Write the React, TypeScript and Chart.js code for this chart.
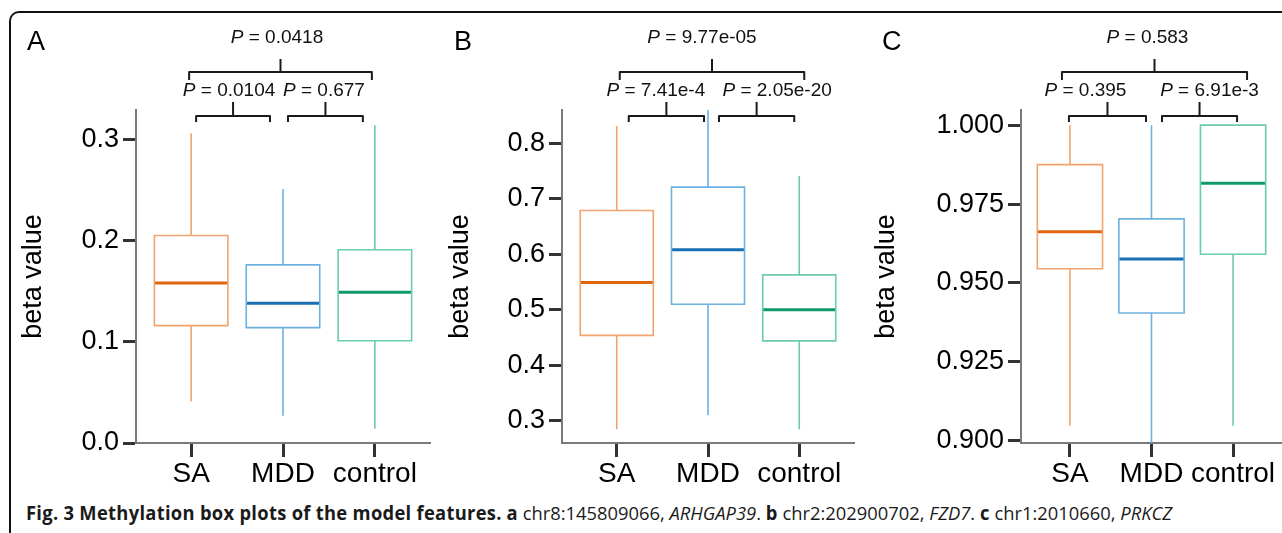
import React, { useEffect, useRef } from 'react';
import { Chart, registerables } from 'chart.js';

Chart.register(...registerables);

// ---------- data ----------
const GROUPS = ['SA', 'MDD', 'control'];

// Panel A: chr8:145809066, ARHGAP39
const A_MIN = [0.041, 0.027, 0.014];
const A_Q1 = [0.116, 0.114, 0.101];
const A_MED = [0.158, 0.138, 0.149];
const A_Q3 = [0.205, 0.176, 0.191];
const A_MAX = [0.306, 0.251, 0.314];
const A_Y_TICKS = ['0.0', '0.1', '0.2', '0.3'];
// SA vs MDD, MDD vs control, SA vs control
const A_P = ['0.0104', '0.677', '0.0418'];

// Panel B: chr2:202900702, FZD7
const B_MIN = [0.285, 0.31, 0.285];
const B_Q1 = [0.454, 0.51, 0.444];
const B_MED = [0.549, 0.608, 0.5];
const B_Q3 = [0.679, 0.721, 0.563];
const B_MAX = [0.831, 0.86, 0.741];
const B_Y_TICKS = ['0.3', '0.4', '0.5', '0.6', '0.7', '0.8'];
const B_P = ['7.41e-4', '2.05e-20', '9.77e-05'];

// Panel C: chr1:2010660, PRKCZ
const C_MIN = [0.9048, 0.899, 0.9048];
const C_Q1 = [0.9545, 0.9405, 0.9591];
const C_MED = [0.9662, 0.9576, 0.9816];
const C_Q3 = [0.9875, 0.9703, 1.0];
const C_MAX = [1.0, 1.0, 1.0];
const C_Y_TICKS = ['0.900', '0.925', '0.950', '0.975', '1.000'];
const C_P = ['0.395', '6.91e-3', '0.583'];

// ---------- styles ----------
const FAMILY = "'Liberation Sans', Arial, Helvetica, sans-serif";
const BOX_COLORS = ['#F2A46E', '#6DB1DF', '#6ACDAA'];
const MEDIAN_COLORS = ['#E0650F', '#1B6FB3', '#0C9A68'];
const BOX_HALF = 0.4;
const CANVAS_H = 500;
const CHART_TOP = 110;
const CHART_BOTTOM = 443;

type Bracket = { from: number; to: number; level: number; dx: [number, number]; labelDx: number };

const PANELS = [
  {
    letter: 'A', left: 0, width: 432, yWidth: 136, padRight: 2, titlePad: 17, letterX: 27,
    yMin: 0, yMax: 0.329, ticks: A_Y_TICKS,
    stats: { min: A_MIN, q1: A_Q1, med: A_MED, q3: A_Q3, max: A_MAX }, p: A_P,
    brackets: [
      { from: 0, to: 1, level: 0, dx: [5, -13], labelDx: -4 },
      { from: 1, to: 2, level: 0, dx: [5, -12], labelDx: -1.5 },
      { from: 0, to: 2, level: 1, dx: [-2, -3], labelDx: -3.5 },
    ] as Bracket[],
  },
  {
    letter: 'B', left: 432, width: 428, yWidth: 130, padRight: 6, titlePad: 12, letterX: 22,
    yMin: 0.26, yMax: 0.86, ticks: B_Y_TICKS,
    stats: { min: B_MIN, q1: B_Q1, med: B_MED, q3: B_Q3, max: B_MAX }, p: B_P,
    brackets: [
      { from: 0, to: 1, level: 0, dx: [12, -4], labelDx: -10.5 },
      { from: 1, to: 2, level: 0, dx: [11, -5], labelDx: 20.5 },
      { from: 0, to: 2, level: 1, dx: [3, 5], labelDx: -10 },
    ] as Bracket[],
  },
  {
    letter: 'C', left: 860, width: 422, yWidth: 161, padRight: 0, titlePad: 10, letterX: 22,
    yMin: 0.8993, yMax: 1.0048, ticks: C_Y_TICKS,
    stats: { min: C_MIN, q1: C_Q1, med: C_MED, q3: C_Q3, max: C_MAX }, p: C_P,
    brackets: [
      { from: 0, to: 1, level: 0, dx: [-1, -5.5], labelDx: -22 },
      { from: 1, to: 2, level: 0, dx: [10.5, 4], labelDx: 10 },
      { from: 0, to: 2, level: 1, dx: [-8, 14], labelDx: -7 },
    ] as Bracket[],
  },
];

type Panel = typeof PANELS[number];

function buildDatasets(s: Panel['stats']) {
  const ds: any[] = [];
  GROUPS.forEach((_, i) => {
    const c = i + 1;
    ds.push({
      label: GROUPS[i] + ' whiskers',
      data: [
        { x: c, y: s.min[i] }, { x: c, y: s.q1[i] }, { x: c, y: null },
        { x: c, y: s.q3[i] }, { x: c, y: s.max[i] },
      ],
      borderColor: BOX_COLORS[i], borderWidth: 1.6, pointRadius: 0, spanGaps: false, fill: false,
    });
    ds.push({
      label: GROUPS[i] + ' box',
      data: [
        { x: c - BOX_HALF, y: s.q1[i] }, { x: c + BOX_HALF, y: s.q1[i] },
        { x: c + BOX_HALF, y: s.q3[i] }, { x: c - BOX_HALF, y: s.q3[i] },
        { x: c - BOX_HALF, y: s.q1[i] }, { x: c + BOX_HALF, y: s.q1[i] },
      ],
      borderColor: BOX_COLORS[i], borderWidth: 1.6, pointRadius: 0, fill: false,
    });
    ds.push({
      label: GROUPS[i] + ' median',
      data: [{ x: c - BOX_HALF, y: s.med[i] }, { x: c + BOX_HALF, y: s.med[i] }],
      borderColor: MEDIAN_COLORS[i], borderWidth: 3, pointRadius: 0, fill: false,
    });
  });
  return ds;
}

function makeAnnotPlugin(cfg: Panel) {
  return {
    id: 'annot' + cfg.letter,
    afterDraw(chart: any) {
      const { ctx, chartArea, scales } = chart;
      const xs = scales.x;
      const top = chartArea.top;
      ctx.save();
      ctx.strokeStyle = '#1a1a1a';
      ctx.lineWidth = 2;
      ctx.lineJoin = 'round';
      ctx.lineCap = 'butt';
      cfg.brackets.forEach((b, k) => {
        const x1 = xs.getPixelForValue(b.from + 1) + b.dx[0];
        const x2 = xs.getPixelForValue(b.to + 1) + b.dx[1];
        const L = b.level === 0
          ? { bar: top + 6, end: top + 12, tip: top - 8, base: top - 14 }
          : { bar: top - 38, end: top - 30, tip: top - 51, base: top - 67 };
        ctx.beginPath();
        ctx.moveTo(x1, L.end);
        ctx.lineTo(x1, L.bar);
        ctx.lineTo(x2, L.bar);
        ctx.lineTo(x2, L.end);
        ctx.stroke();
        const xm = (x1 + x2) / 2;
        ctx.beginPath();
        ctx.moveTo(xm, L.bar);
        ctx.lineTo(xm, L.tip);
        ctx.stroke();
        // label
        const rest = ' = ' + cfg.p[k];
        ctx.font = `italic 19px ${FAMILY}`;
        const wP = ctx.measureText('P').width;
        ctx.font = `19px ${FAMILY}`;
        const wR = ctx.measureText(rest).width;
        const start = xm + b.labelDx - (wP + wR) / 2;
        ctx.fillStyle = '#111';
        ctx.textBaseline = 'alphabetic';
        ctx.textAlign = 'left';
        ctx.font = `italic 19px ${FAMILY}`;
        ctx.fillText('P', start, L.base);
        ctx.font = `19px ${FAMILY}`;
        ctx.fillText(rest, start + wP, L.base);
      });
      ctx.font = `27px ${FAMILY}`;
      ctx.fillStyle = '#000';
      ctx.textAlign = 'left';
      ctx.textBaseline = 'alphabetic';
      ctx.fillText(cfg.letter, cfg.letterX, 49.5);
      ctx.restore();
    },
  };
}

function BoxPanel({ cfg }: { cfg: Panel }) {
  const ref = useRef<HTMLCanvasElement | null>(null);
  useEffect(() => {
    if (!ref.current) return;
    const chart = new Chart(ref.current, {
      type: 'line',
      data: { datasets: buildDatasets(cfg.stats) },
      options: {
        responsive: false,
        animation: false,
        events: [],
        layout: { padding: { top: CHART_TOP, left: 0, right: cfg.padRight, bottom: 0 } },
        plugins: { legend: { display: false }, tooltip: { enabled: false } },
        scales: {
          x: {
            type: 'linear',
            min: 0.4,
            max: 3.6,
            afterBuildTicks: (s: any) => { s.ticks = GROUPS.map((_, i) => ({ value: i + 1 })); },
            afterFit: (s: any) => { s.height = CANVAS_H - CHART_BOTTOM; },
            ticks: {
              callback: (v: any) => GROUPS[Math.round(Number(v)) - 1] ?? '',
              font: { size: 28, family: FAMILY },
              color: '#000',
              padding: 0,
              maxRotation: 0,
              minRotation: 0,
              autoSkip: false,
            },
            grid: { drawOnChartArea: false, drawTicks: true, tickLength: 14, tickWidth: 3, tickColor: '#333' },
            border: { display: true, color: '#7a7a7a', width: 2 },
          },
          y: {
            type: 'linear',
            min: cfg.yMin,
            max: cfg.yMax,
            afterBuildTicks: (s: any) => { s.ticks = cfg.ticks.map((t) => ({ value: parseFloat(t) })); },
            afterFit: (s: any) => { s.width = cfg.yWidth; },
            ticks: {
              callback: (_v: any, idx: number) => cfg.ticks[idx],
              font: { size: 27, family: FAMILY },
              color: '#000',
              padding: 4,
              autoSkip: false,
            },
            grid: { drawOnChartArea: false, drawTicks: true, tickLength: 13, tickWidth: 3, tickColor: '#333' },
            border: { display: true, color: '#7a7a7a', width: 2 },
            title: {
              display: true,
              text: 'beta value',
              font: { size: 27, family: FAMILY },
              color: '#000',
              padding: { top: cfg.titlePad, bottom: 0 },
            },
          },
        },
      },
      plugins: [makeAnnotPlugin(cfg)],
    } as any);
    return () => chart.destroy();
  }, [cfg]);
  return (
    <div style={{ position: 'absolute', left: cfg.left, top: 0, width: cfg.width, height: CANVAS_H }}>
      <canvas ref={ref} width={cfg.width} height={CANVAS_H} style={{ display: 'block' }} />
    </div>
  );
}

export default function App() {
  const capRef = useRef<HTMLDivElement | null>(null);
  useEffect(() => {
    const fit = () => {
      const el = capRef.current;
      if (!el) return;
      el.style.transform = 'none';
      const w = el.getBoundingClientRect().width;
      if (w > 0) el.style.transform = `scaleX(${1146 / w})`;
    };
    fit();
    if ((document as any).fonts?.ready) (document as any).fonts.ready.then(fit);
  }, []);
  const bold = { fontWeight: 700, letterSpacing: '0.3px' } as const;
  return (
    <div style={{ position: 'absolute', left: 0, top: 0, width: 1282, height: 533, overflow: 'hidden', background: '#fff' }}>
      <div
        style={{
          position: 'absolute', left: 9, top: 11, width: 1400, height: 700, boxSizing: 'border-box',
          borderTop: '2px solid #111', borderLeft: '2px solid #111', borderTopLeftRadius: 10,
        }}
      />
      {PANELS.map((p) => <BoxPanel key={p.letter} cfg={p} />)}
      <div
        ref={capRef}
        style={{
          position: 'absolute', left: 26, top: 504, whiteSpace: 'nowrap', display: 'inline-block',
          fontFamily: "'Open Sans', 'Noto Sans', sans-serif", fontSize: 19, lineHeight: '19px',
          color: '#1a1a1a', transformOrigin: 'left top',
        }}
      >
        <span style={bold}>Fig. 3 Methylation box plots of the model features.</span> <span style={bold}>a</span> chr8:145809066, <i>ARHGAP39</i>. <span style={bold}>b</span> chr2:202900702, <i>FZD7</i>. <span style={bold}>c</span> chr1:2010660, <i>PRKCZ</i>
      </div>
    </div>
  );
}
